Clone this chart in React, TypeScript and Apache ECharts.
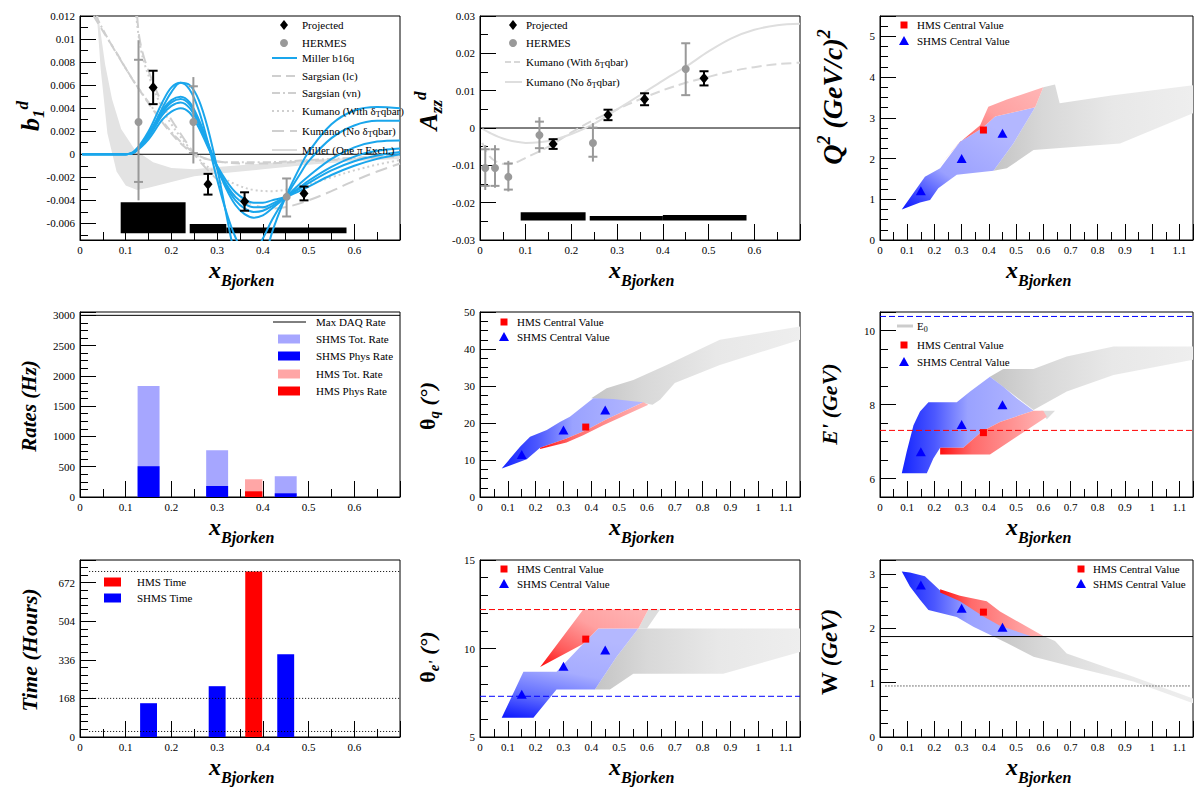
import React, { useEffect, useRef } from 'react';
import * as echarts from 'echarts';

type Pt = [number, number];
const SERIF = 'Liberation Serif, Times New Roman, Times, serif';

// ================= Panel 1 : b1^d =================
const b1ProjX = [0.16, 0.28, 0.36, 0.49];
const b1ProjY = [0.0058, -0.0026, -0.0041, -0.0034];
const b1ProjErr = [0.00145, 0.0009, 0.0008, 0.0006];
const b1HermesX = [0.128, 0.248, 0.452];
const b1HermesY = [0.0028, 0.0028, -0.0037];
const b1HermesTotLo = [-0.004, -0.0008, -0.0054];
const b1HermesTotHi = [0.0099, 0.0067, -0.0021];
const b1HermesStatLo = [-0.0024, 0.0001, -0.0054];
const b1HermesStatHi = [0.0082, 0.0059, -0.0021];
const b1SysLo = [0.089, 0.24, 0.32];
const b1SysHi = [0.231, 0.32, 0.583];
const b1SysTop = [-0.00416, -0.00605, -0.00635];
const b1SysBase = -0.00685;

const millerX = [0.005, 0.1, 0.12, 0.15, 0.18, 0.2, 0.22, 0.24, 0.26, 0.28, 0.3, 0.32, 0.34, 0.36, 0.38, 0.4, 0.42, 0.45, 0.48, 0.5, 0.55, 0.6, 0.65, 0.7];
const miller1 = [0, 0, 0.0002, 0.0016, 0.004, 0.0054, 0.0062, 0.006, 0.0047, 0.0022, -0.0012, -0.0052, -0.009, -0.0115, -0.012, -0.0098, -0.0068, -0.0037, -0.0012, 0.0002, 0.0026, 0.0038, 0.0041, 0.004];
const miller2 = [0, 0, 0.0003, 0.002, 0.0045, 0.0058, 0.0062, 0.0056, 0.0038, 0.001, -0.0022, -0.005, -0.0072, -0.0085, -0.0085, -0.0073, -0.0057, -0.0037, -0.0018, -0.0006, 0.0014, 0.0025, 0.0029, 0.0029];
const miller3 = [0, 0, 0.0003, 0.0018, 0.0038, 0.0047, 0.005, 0.0045, 0.003, 0.001, -0.0011, -0.003, -0.0044, -0.0052, -0.0055, -0.0053, -0.0047, -0.0037, -0.0026, -0.0019, -0.0004, 0.0006, 0.0011, 0.0012];
const miller4 = [0, 0, 0.0002, 0.0016, 0.0036, 0.0045, 0.0048, 0.0043, 0.0028, 0.0008, -0.0012, -0.0028, -0.004, -0.0047, -0.005, -0.0049, -0.0045, -0.0037, -0.0029, -0.0023, -0.0011, -0.0002, 0.0003, 0.0005];
const miller5 = [0, 0, 0.0002, 0.0015, 0.0034, 0.0042, 0.0045, 0.004, 0.0026, 0.0007, -0.0011, -0.0026, -0.0037, -0.0043, -0.0046, -0.0046, -0.0043, -0.0037, -0.003, -0.0025, -0.0014, -0.0006, -0.0001, 0.0002];
const miller6 = [0, 0, 0.0002, 0.0013, 0.003, 0.0037, 0.004, 0.0036, 0.0023, 0.0006, -0.001, -0.0023, -0.0033, -0.0039, -0.0042, -0.0042, -0.004, -0.0037, -0.0032, -0.0028, -0.0018, -0.001, -0.0004, 0];

const sargLcX = [0.03, 0.05, 0.08, 0.11, 0.14, 0.17, 0.2, 0.23, 0.26, 0.3, 0.35, 0.4, 0.5, 0.6, 0.7];
const sargLcY = [0.012, 0.0107, 0.0088, 0.0068, 0.005, 0.0033, 0.0018, 0.0006, -0.0002, -0.0006, -0.0008, -0.0008, -0.0006, -0.0004, -0.0002];
const sargVnX = [0.035, 0.06, 0.09, 0.12, 0.15, 0.18, 0.21, 0.24, 0.27, 0.32, 0.4, 0.5, 0.6, 0.7];
const sargVnY = [0.012, 0.0101, 0.0081, 0.0062, 0.0045, 0.0029, 0.0015, 0.0004, -0.0003, -0.0007, -0.0007, -0.0005, -0.0003, -0.0001];
const kumWithX = [0.123, 0.13, 0.14, 0.16, 0.18, 0.2, 0.23, 0.26, 0.3, 0.34, 0.38, 0.42, 0.46, 0.5, 0.55, 0.6, 0.65, 0.7];
const kumWithY = [0.012, 0.0098, 0.008, 0.0058, 0.004, 0.0026, 0.001, -0.0004, -0.0017, -0.0026, -0.0031, -0.0032, -0.003, -0.0026, -0.002, -0.0014, -0.0009, -0.0005];
const kumNoX = [0.125, 0.13, 0.14, 0.16, 0.18, 0.2, 0.23, 0.26, 0.3, 0.34, 0.38, 0.42, 0.46, 0.5, 0.55, 0.6, 0.65, 0.7];
const kumNoY = [0.012, 0.0101, 0.0084, 0.0062, 0.0044, 0.003, 0.0012, -0.0005, -0.0022, -0.0036, -0.0044, -0.0047, -0.0045, -0.004, -0.0032, -0.0023, -0.0015, -0.0008];
const opeUpper: Pt[] = [[0.04, 0.012], [0.055, 0.0078], [0.07, 0.0048], [0.09, 0.0022], [0.12, 0.0004], [0.16, -0.0007], [0.2, -0.0012], [0.25, -0.0013], [0.3, -0.0011], [0.4, -0.0008], [0.5, -0.0005], [0.6, -0.0003], [0.7, -0.0002]];
const opeLower: Pt[] = [[0.7, -0.0004], [0.6, -0.0006], [0.5, -0.0009], [0.4, -0.0013], [0.3, -0.0017], [0.25, -0.0019], [0.2, -0.0024], [0.15, -0.0029], [0.125, -0.0031], [0.1, -0.0027], [0.08, -0.0015], [0.06, 0.0018], [0.045, 0.0075], [0.037, 0.012]];

// ================= Panel 2 : Azz^d =================
const azzProjY = [-0.0043, 0.0035, 0.0077, 0.0133];
const azzProjErr = [0.0013, 0.0014, 0.0016, 0.0019];
const azzHermesX = [0.0115, 0.0328, 0.062, 0.13, 0.247, 0.45];
const azzHermesY = [-0.0107, -0.0107, -0.0131, -0.0019, -0.004, 0.0158];
const azzHermesTotLo = [-0.0166, -0.016, -0.017, -0.0066, -0.009, 0.0088];
const azzHermesTotHi = [-0.0046, -0.0046, -0.0088, 0.0029, 0.0013, 0.0227];
const azzHermesStatLo = [-0.0155, -0.0155, -0.0165, -0.0054, -0.0077, 0.0088];
const azzHermesStatHi = [-0.0057, -0.0057, -0.0095, 0.0017, 0.0001, 0.0227];
const azzSysLo = [0.089, 0.24, 0.4];
const azzSysHi = [0.231, 0.4, 0.583];
const azzSysTop = [-0.0226, -0.0236, -0.0233];
const azzSysBase = -0.0248;
const azzKumWithX = [0.005, 0.02, 0.04, 0.06, 0.08, 0.1, 0.15, 0.2, 0.25, 0.3, 0.35, 0.4, 0.45, 0.5, 0.55, 0.6, 0.65, 0.7];
const azzKumWithY = [-0.004, -0.0075, -0.0093, -0.0097, -0.0092, -0.008, -0.005, -0.0012, 0.0022, 0.005, 0.0077, 0.0101, 0.0121, 0.0137, 0.0152, 0.0163, 0.0171, 0.0175];
const azzKumNoX = [0.005, 0.02, 0.05, 0.08, 0.1, 0.13, 0.16, 0.2, 0.25, 0.3, 0.35, 0.4, 0.45, 0.5, 0.55, 0.6, 0.65, 0.7];
const azzKumNoY = [-0.0002, -0.0012, -0.0028, -0.0037, -0.004, -0.0038, -0.0032, -0.0016, 0.0012, 0.005, 0.0088, 0.0127, 0.0164, 0.0205, 0.024, 0.0263, 0.0275, 0.0279];

// ================= Central values (kinematics) =================
const shmsX = [0.15, 0.3, 0.45];
const hmsX = [0.38];
const q2Shms = [1.21, 2.0, 2.62];
const q2Hms = [2.7];
const thqShms = [11.5, 18.1, 23.5];
const thqHms = [18.9];
const epShms = [6.72, 7.46, 7.99];
const epHms = [7.24];
const theShms = [7.42, 9.0, 9.91];
const theHms = [10.53];
const wShms = [2.8, 2.37, 2.02];
const wHms = [2.3];

// ================= Kinematic coverage regions =================
const q2Gray: Pt[] = [[0.417, 1.7], [0.466, 1.76], [0.564, 2.21], [0.882, 2.37], [1.15, 3.11], [1.15, 3.8], [0.85, 3.55], [0.66, 3.36], [0.643, 3.82], [0.6, 3.75], [0.57, 3.26], [0.49, 2.37]];
const q2Blue: Pt[] = [[0.08, 0.75], [0.147, 0.92], [0.184, 0.98], [0.214, 1.27], [0.282, 1.6], [0.417, 1.7], [0.49, 2.37], [0.57, 3.26], [0.423, 3.03], [0.374, 2.74], [0.294, 2.41], [0.221, 1.76], [0.165, 1.55]];
const q2Red: Pt[] = [[0.214, 1.78], [0.288, 2.37], [0.368, 2.82], [0.398, 3.27], [0.466, 3.45], [0.6, 3.75], [0.57, 3.26], [0.423, 3.03], [0.374, 2.74], [0.294, 2.41]];

const thqGray: Pt[] = [[0.4, 26.7], [0.455, 29.4], [0.551, 31.6], [0.671, 35.7], [0.862, 42.5], [1.15, 46.1], [1.15, 42.5], [0.862, 35.7], [0.7, 30.8], [0.647, 26.3], [0.62, 24.9], [0.587, 25.4]];
const thqBlue: Pt[] = [[0.078, 7.7], [0.168, 10.2], [0.216, 13.3], [0.311, 15.8], [0.383, 18.1], [0.455, 21.0], [0.587, 25.6], [0.551, 25.9], [0.479, 26.5], [0.407, 26.7], [0.323, 21.7], [0.287, 20.3], [0.24, 18.1], [0.18, 16.3], [0.144, 13.6]];
const thqRed: Pt[] = [[0.216, 13.3], [0.311, 15.8], [0.383, 18.1], [0.455, 21.0], [0.587, 25.6], [0.605, 24.9], [0.443, 19.4], [0.371, 16.7], [0.311, 14.7], [0.216, 13.0]];

const epGray: Pt[] = [[0.404, 8.75], [0.453, 8.96], [0.564, 8.96], [0.686, 9.3], [0.858, 9.57], [1.15, 9.57], [1.15, 9.21], [0.858, 8.8], [0.686, 8.35], [0.564, 7.85]];
const epGrayTab: Pt[] = [[0.59, 7.83], [0.643, 7.83], [0.613, 7.6]];
const epBlue: Pt[] = [[0.08, 6.14], [0.172, 6.14], [0.196, 6.54], [0.221, 6.83], [0.306, 6.83], [0.374, 7.27], [0.441, 7.53], [0.564, 7.83], [0.502, 8.17], [0.453, 8.48], [0.404, 8.75], [0.331, 8.35], [0.282, 8.06], [0.178, 8.06], [0.147, 7.81], [0.123, 7.44], [0.098, 6.72]];
const epRed: Pt[] = [[0.221, 6.83], [0.306, 6.83], [0.374, 7.27], [0.441, 7.53], [0.564, 7.83], [0.6, 7.83], [0.613, 7.67], [0.502, 7.13], [0.404, 6.65], [0.221, 6.65]];

const theGray: Pt[] = [[0.413, 7.68], [0.467, 7.68], [0.551, 8.58], [0.874, 8.58], [1.15, 9.8], [1.15, 11.13], [0.569, 11.13], [0.491, 9.53]];
const theGrayTab: Pt[] = [[0.605, 12.2], [0.647, 12.2], [0.6, 11.13], [0.569, 11.13]];
const theBlue: Pt[] = [[0.078, 6.09], [0.192, 6.09], [0.275, 7.68], [0.413, 7.68], [0.491, 9.53], [0.569, 11.13], [0.425, 11.13], [0.37, 10.25], [0.275, 8.68], [0.156, 8.68]];
const theRed: Pt[] = [[0.216, 8.96], [0.371, 12.2], [0.605, 12.2], [0.569, 11.13], [0.425, 11.13], [0.37, 10.25]];

const wGray: Pt[] = [[0.417, 1.85], [0.466, 1.73], [0.564, 1.48], [0.711, 1.29], [0.931, 1.02], [1.15, 0.62], [1.15, 0.71], [0.931, 1.11], [0.686, 1.54], [0.643, 1.77], [0.6, 1.86]];
const wBlue: Pt[] = [[0.08, 3.05], [0.11, 3.03], [0.165, 2.96], [0.221, 2.7], [0.294, 2.58], [0.392, 2.45], [0.441, 2.22], [0.564, 1.84], [0.417, 1.85], [0.343, 2.03], [0.282, 2.21], [0.178, 2.34], [0.147, 2.53], [0.11, 2.77]];
const wRed: Pt[] = [[0.221, 2.72], [0.294, 2.6], [0.392, 2.5], [0.441, 2.31], [0.6, 1.86], [0.564, 1.84], [0.441, 2.05], [0.38, 2.22], [0.294, 2.5], [0.221, 2.66]];

// ================= Rates & time =================
const shmsRateX = [0.15, 0.3, 0.45];
const shmsTotRate = [1835, 774, 343];
const shmsPhysRate = [508, 182, 61];
const hmsRateX = [0.38];
const hmsTotRate = [293];
const hmsPhysRate = [94];
const maxDaqRate = 3000;

const shmsTimeX = [0.15, 0.3, 0.45];
const shmsTime = [147, 221, 360];
const hmsTimeX = [0.38];
const hmsTime = [720];
const timeRefLines = [24, 168, 720];

// reference levels
const epHmsMax = 7.3;
const epBeam = 10.38;
const theHmsLine = 12.2;
const theShmsLine = 7.3;
const wCut = 1.85;
const wProton = 0.94;

// ================= helpers =================
const toPts = (xs: number[], ys: number[]) => xs.map((x, i) => [x, ys[i]]);
const lg = (x: number, y: number, x2: number, y2: number, stops: [number, string][]) =>
  new echarts.graphic.LinearGradient(x, y, x2, y2, stops.map(([o, c]) => ({ offset: o, color: c })));
const numFmt = (v: number) => String(parseFloat(Number(v).toPrecision(6)));

const xAxisCfg = (gi: number, max: number) => ({
  type: 'value', gridIndex: gi, min: 0, max, interval: 0.1,
  axisLine: { show: true, onZero: false, lineStyle: { color: '#000', width: 1 } },
  axisTick: { show: true, inside: true, length: 16, lineStyle: { color: '#000', width: 1 } },
  minorTick: { show: true, splitNumber: 2, length: 8, lineStyle: { color: '#000', width: 1 } },
  axisLabel: { show: true, color: '#000', fontFamily: SERIF, fontSize: 11, margin: 4, showMaxLabel: false, formatter: numFmt },
  splitLine: { show: false },
});
const yAxisCfg = (gi: number, min: number, max: number, o: any) => ({
  type: 'value', gridIndex: gi, min, max,
  ...(o.interval ? { interval: o.interval } : { splitNumber: o.splitNumber }),
  axisLine: { show: true, onZero: false, lineStyle: { color: '#000', width: 1 } },
  axisTick: { show: true, inside: true, length: 16, lineStyle: { color: '#000', width: 1 } },
  minorTick: { show: true, splitNumber: o.minor, length: 8, lineStyle: { color: '#000', width: 1 } },
  axisLabel: { show: true, color: '#000', fontFamily: SERIF, fontSize: 11, margin: 5, showMaxLabel: !o.hideMax, showMinLabel: !o.hideMin, formatter: numFmt },
  splitLine: { show: false },
});

const polySeries = (gi: number, pts: Pt[], fill: any) => ({
  type: 'custom', xAxisIndex: gi, yAxisIndex: gi, silent: true, clip: true,
  data: [pts[0]],
  renderItem: (_p: any, api: any) => ({
    type: 'polygon',
    shape: { points: pts.map((p) => api.coord(p)) },
    style: { fill, stroke: null },
  }),
});
const curve = (gi: number, xs: number[], ys: number[], color: string, width: number, type: any) => ({
  type: 'line', xAxisIndex: gi, yAxisIndex: gi, silent: true, clip: true,
  data: toPts(xs, ys), smooth: 0.35, showSymbol: false, symbol: 'none',
  lineStyle: { color, width, type },
});
const hline = (gi: number, y: number, x0: number, x1: number, color: string, type: any, width = 1) => ({
  type: 'line', xAxisIndex: gi, yAxisIndex: gi, silent: true,
  data: [[x0, y], [x1, y]], showSymbol: false, symbol: 'none',
  lineStyle: { color, width, type },
});
const scatter = (gi: number, xs: number[], ys: number[], symbol: string, size: any, color: string) => ({
  type: 'scatter', xAxisIndex: gi, yAxisIndex: gi, silent: true,
  data: toPts(xs, ys), symbol, symbolSize: size, itemStyle: { color, opacity: 1 }, z: 5,
});
const barSeries = (gi: number, xs: number[], ys: number[], hw: number, color: string) => ({
  type: 'custom', xAxisIndex: gi, yAxisIndex: gi, silent: true, clip: true,
  data: toPts(xs, ys), encode: { x: 0, y: 1 },
  renderItem: (_p: any, api: any) => {
    const x = api.value(0);
    const y = api.value(1);
    const a = api.coord([x - hw, y]);
    const b = api.coord([x + hw, 0]);
    return { type: 'rect', shape: { x: a[0], y: a[1], width: b[0] - a[0], height: b[1] - a[1] }, style: { fill: color } };
  },
});
const blockSeries = (gi: number, los: number[], his: number[], tops: number[], base: number) => ({
  type: 'custom', xAxisIndex: gi, yAxisIndex: gi, silent: true, clip: true,
  data: los.map((l, i) => [l, tops[i], his[i]]), encode: { x: 0, y: 1 },
  renderItem: (_p: any, api: any) => {
    const a = api.coord([api.value(0), api.value(1)]);
    const b = api.coord([api.value(2), base]);
    return { type: 'rect', shape: { x: a[0], y: a[1], width: b[0] - a[0], height: b[1] - a[1] }, style: { fill: '#000' } };
  },
});
const errSeries = (gi: number, xs: number[], lo: number[], hi: number[], tlo: number[], thi: number[], color: string, width: number, capHalf: number) => ({
  type: 'custom', xAxisIndex: gi, yAxisIndex: gi, silent: true, clip: true, z: 4,
  data: xs.map((x, i) => [x, lo[i], hi[i], tlo[i], thi[i]]), encode: { x: 0, y: [1, 2] },
  renderItem: (_p: any, api: any) => {
    const x = api.value(0);
    const a = api.coord([x, api.value(1)]);
    const b = api.coord([x, api.value(2)]);
    const c = api.coord([x, api.value(3)]);
    const d = api.coord([x, api.value(4)]);
    const st = { stroke: color, lineWidth: width };
    return {
      type: 'group', children: [
        { type: 'line', shape: { x1: a[0], y1: a[1], x2: b[0], y2: b[1] }, style: st },
        { type: 'line', shape: { x1: c[0] - capHalf, y1: c[1], x2: c[0] + capHalf, y2: c[1] }, style: st },
        { type: 'line', shape: { x1: d[0] - capHalf, y1: d[1], x2: d[0] + capHalf, y2: d[1] }, style: st },
      ],
    };
  },
});

// gradients
const gBlueDiag = () => lg(0, 1, 0.7, 0.2, [[0, '#0814ff'], [0.2, '#4450ff'], [0.45, '#9aa0ff'], [1, '#b3b7ff']]);
const gBlueH = () => lg(0, 0, 1, 0, [[0, '#1424ff'], [0.25, '#4c58ff'], [0.5, '#9aa2ff'], [1, '#b4b8ff']]);
const gBlueV = () => lg(0, 1, 0.3, 0, [[0, '#0a16ff'], [0.3, '#6470ff'], [0.6, '#a6acff'], [1, '#b4b8ff']]);
const gRedDiag = () => lg(0, 1, 1, 0, [[0, '#ff0a0a'], [0.25, '#ff5a5a'], [0.6, '#ffa0a0'], [1, '#ffb6b6']]);
const gRedH = () => lg(0, 0, 1, 0, [[0, '#ff1010'], [0.3, '#ff6a6a'], [1, '#ffb6b6']]);
const gGrayH = () => lg(0, 0, 1, 0, [[0, '#c4c4c4'], [0.25, '#d8d8d8'], [0.6, '#e8e8e8'], [1, '#eeeeee']]);

// ================= text helpers =================
const titleRich = (size: number, sub: number, shift: number) => {
  const base = { fontFamily: SERIF, fontWeight: 'bold', color: '#000', lineHeight: Math.round(size * 1.1) };
  return {
    m: { ...base, fontSize: size, fontStyle: 'italic' },
    r: { ...base, fontSize: size, fontStyle: 'normal' },
    sb: { ...base, fontSize: sub, fontStyle: 'italic', padding: [shift * 2, 0, 0, 0] },
    sp: { ...base, fontSize: sub, fontStyle: 'italic', padding: [0, 0, shift * 2, 0] },
  };
};
const legRich = {
  n: { fontSize: 11, fontFamily: SERIF, color: '#000', lineHeight: 13 },
  s: { fontSize: 8, fontFamily: SERIF, color: '#000', lineHeight: 13, padding: [7, 0, 0, 0] },
};
const txt = (x: number, y: number, text: string, rich?: any) => ({
  type: 'text', x, y, z: 100, silent: true,
  style: {
    text, fill: '#000', fontSize: 11, fontFamily: SERIF, rich,
    align: 'left', verticalAlign: 'middle', textAlign: 'left', textVerticalAlign: 'middle',
  },
});
const yTitle = (x: number, y: number, text: string, size: number, sub: number, shift: number) => ({
  type: 'text', x, y, rotation: Math.PI / 2, z: 100, silent: true,
  style: { text, rich: titleRich(size, sub, shift), align: 'center', verticalAlign: 'middle', textAlign: 'center', textVerticalAlign: 'middle' },
});
const boldItalic = (x: number, y: number, text: string, size: number, lineHeight: number) => ({
  type: 'text', x, y, z: 100, silent: true,
  style: {
    text, fill: '#000', fontSize: size, fontFamily: SERIF, fontWeight: 'bold', fontStyle: 'italic', lineHeight,
    align: 'left', verticalAlign: 'middle', textAlign: 'left', textVerticalAlign: 'middle',
  },
});
const xTitle = (cx: number, y: number) => [
  boldItalic(cx - 32, y, 'x', 24, 14),
  boldItalic(cx - 20, y + 10, 'Bjorken', 16, 12),
];
const gLine = (x1: number, x2: number, y: number, stroke: string, lineWidth: number, lineDash?: number[]) => ({
  type: 'line', z: 100, silent: true, shape: { x1, y1: y, x2, y2: y }, style: { stroke, lineWidth, lineDash },
});
const gDiamond = (cx: number, cy: number) => ({
  type: 'polygon', z: 100, silent: true, shape: { points: [[cx, cy - 5], [cx + 4, cy], [cx, cy + 5], [cx - 4, cy]] }, style: { fill: '#000' },
});
const gCircle = (cx: number, cy: number) => ({ type: 'circle', z: 100, silent: true, shape: { cx, cy, r: 4 }, style: { fill: '#999' } });
const gSquare = (cx: number, cy: number) => ({ type: 'rect', z: 100, silent: true, shape: { x: cx - 3.5, y: cy - 3.5, width: 7, height: 7 }, style: { fill: '#ff0000' } });
const gTri = (cx: number, cy: number) => ({
  type: 'polygon', z: 100, silent: true, shape: { points: [[cx, cy - 5], [cx + 5, cy + 4], [cx - 5, cy + 4]] }, style: { fill: '#0000ff' },
});
const gBox = (x: number, cy: number, w: number, h: number, fill: string) => ({
  type: 'rect', z: 100, silent: true, shape: { x, y: cy - h / 2, width: w, height: h }, style: { fill },
});

const BLUE = '#1aa6ec';
const LGRAY = '#cfcfcf';

function buildOption() {
  const grids = [
    { left: 80, top: 16, width: 320, height: 224 },
    { left: 480, top: 16, width: 320, height: 224 },
    { left: 880, top: 16, width: 313, height: 224 },
    { left: 80, top: 312, width: 320, height: 185 },
    { left: 480, top: 312, width: 320, height: 185 },
    { left: 880, top: 312, width: 313, height: 185 },
    { left: 80, top: 560, width: 320, height: 177 },
    { left: 480, top: 560, width: 320, height: 177 },
    { left: 880, top: 560, width: 313, height: 177 },
  ].map((g) => ({ ...g, show: true, borderColor: '#000', borderWidth: 1, backgroundColor: 'transparent', containLabel: false }));

  const xMax = [0.7, 0.7, 1.15, 0.7, 1.15, 1.15, 0.7, 1.15, 1.15];
  const xAxis = xMax.map((m, i) => xAxisCfg(i, m));
  const yAxis = [
    yAxisCfg(0, -0.00744, 0.012, { splitNumber: 10, minor: 2, hideMin: true }),
    yAxisCfg(1, -0.03, 0.03, { interval: 0.01, minor: 2 }),
    yAxisCfg(2, 0, 5.5, { interval: 1, minor: 4, hideMax: true }),
    yAxisCfg(3, 0, 3055, { interval: 500, minor: 4, hideMax: true }),
    yAxisCfg(4, 0, 50, { interval: 10, minor: 4 }),
    yAxisCfg(5, 5.5, 10.5, { splitNumber: 3, minor: 4, hideMin: true, hideMax: true }),
    yAxisCfg(6, 0, 770, { interval: 168, minor: 5, hideMax: true }),
    yAxisCfg(7, 5, 15, { interval: 5, minor: 5 }),
    yAxisCfg(8, 0, 3.26, { interval: 1, minor: 4, hideMax: true }),
  ];

  const series: any[] = [
    // ---- panel 1
    polySeries(0, [...opeUpper, ...opeLower], '#e3e3e3'),
    hline(0, 0, 0, 0.7, '#000', 'solid'),
    curve(0, sargLcX, sargLcY, LGRAY, 2, [9, 5]),
    curve(0, sargVnX, sargVnY, LGRAY, 2, [8, 3, 2, 3]),
    curve(0, kumWithX, kumWithY, LGRAY, 2, [2, 3]),
    curve(0, kumNoX, kumNoY, LGRAY, 2, [12, 6]),
    curve(0, millerX, miller1, BLUE, 2, 'solid'),
    curve(0, millerX, miller2, BLUE, 2, 'solid'),
    curve(0, millerX, miller3, BLUE, 2, 'solid'),
    curve(0, millerX, miller4, BLUE, 2, 'solid'),
    curve(0, millerX, miller5, BLUE, 2, 'solid'),
    curve(0, millerX, miller6, BLUE, 2, 'solid'),
    blockSeries(0, b1SysLo, b1SysHi, b1SysTop, b1SysBase),
    errSeries(0, b1HermesX, b1HermesTotLo, b1HermesTotHi, b1HermesStatLo, b1HermesStatHi, '#999', 2, 4.5),
    scatter(0, b1HermesX, b1HermesY, 'circle', 8, '#999'),
    errSeries(0, b1ProjX, b1ProjY.map((y, i) => y - b1ProjErr[i]), b1ProjY.map((y, i) => y + b1ProjErr[i]),
      b1ProjY.map((y, i) => y - b1ProjErr[i]), b1ProjY.map((y, i) => y + b1ProjErr[i]), '#000', 2, 4.5),
    scatter(0, b1ProjX, b1ProjY, 'diamond', [9, 11], '#000'),
    // ---- panel 2
    hline(1, 0, 0, 0.7, '#000', 'solid'),
    curve(1, azzKumWithX, azzKumWithY, '#d8d8d8', 2, [10, 5]),
    curve(1, azzKumNoX, azzKumNoY, '#dedede', 2, 'solid'),
    blockSeries(1, azzSysLo, azzSysHi, azzSysTop, azzSysBase),
    errSeries(1, azzHermesX, azzHermesTotLo, azzHermesTotHi, azzHermesStatLo, azzHermesStatHi, '#999', 2, 4.5),
    scatter(1, azzHermesX, azzHermesY, 'circle', 8, '#999'),
    errSeries(1, b1ProjX, azzProjY.map((y, i) => y - azzProjErr[i]), azzProjY.map((y, i) => y + azzProjErr[i]),
      azzProjY.map((y, i) => y - azzProjErr[i]), azzProjY.map((y, i) => y + azzProjErr[i]), '#000', 2, 4.5),
    scatter(1, b1ProjX, azzProjY, 'diamond', [9, 11], '#000'),
    // ---- panel 3
    polySeries(2, q2Gray, gGrayH()),
    polySeries(2, q2Blue, gBlueDiag()),
    polySeries(2, q2Red, gRedDiag()),
    scatter(2, hmsX, q2Hms, 'rect', 7, '#ff0000'),
    scatter(2, shmsX, q2Shms, 'triangle', [10, 9], '#0000ff'),
    // ---- panel 4
    barSeries(3, shmsRateX, shmsTotRate, 0.024, '#a6a6ff'),
    barSeries(3, shmsRateX, shmsPhysRate, 0.024, '#0000ff'),
    barSeries(3, hmsRateX, hmsTotRate, 0.019, '#ffa6a6'),
    barSeries(3, hmsRateX, hmsPhysRate, 0.019, '#ff0000'),
    hline(3, maxDaqRate, 0, 0.7, '#000', 'solid'),
    // ---- panel 5
    polySeries(4, thqGray, gGrayH()),
    polySeries(4, thqBlue, gBlueH()),
    polySeries(4, thqRed, gRedH()),
    scatter(4, hmsX, thqHms, 'rect', 7, '#ff0000'),
    scatter(4, shmsX, thqShms, 'triangle', [10, 9], '#0000ff'),
    // ---- panel 6
    polySeries(5, epGray, gGrayH()),
    polySeries(5, epGrayTab, '#dddddd'),
    polySeries(5, epBlue, gBlueH()),
    polySeries(5, epRed, gRedH()),
    hline(5, epBeam, 0, 1.15, '#0000ff', [6, 3]),
    hline(5, epHmsMax, 0, 1.15, '#ff0000', [6, 3]),
    scatter(5, hmsX, epHms, 'rect', 7, '#ff0000'),
    scatter(5, shmsX, epShms, 'triangle', [10, 9], '#0000ff'),
    // ---- panel 7
    barSeries(6, shmsTimeX, shmsTime, 0.0185, '#0000ff'),
    barSeries(6, hmsTimeX, hmsTime, 0.0185, '#ff0000'),
    ...timeRefLines.map((v) => hline(6, v, 0.02, 0.7, '#000', [1, 2])),
    // ---- panel 8
    polySeries(7, theGray, gGrayH()),
    polySeries(7, theGrayTab, '#dddddd'),
    polySeries(7, theBlue, gBlueV()),
    polySeries(7, theRed, gRedDiag()),
    hline(7, theHmsLine, 0, 1.15, '#ff0000', [6, 3]),
    hline(7, theShmsLine, 0, 1.15, '#0000ff', [6, 3]),
    scatter(7, hmsX, theHms, 'rect', 7, '#ff0000'),
    scatter(7, shmsX, theShms, 'triangle', [10, 9], '#0000ff'),
    // ---- panel 9
    polySeries(8, wGray, gGrayH()),
    polySeries(8, wBlue, gBlueH()),
    polySeries(8, wRed, gRedH()),
    hline(8, wCut, 0, 1.15, '#000', 'solid'),
    hline(8, wProton, 0.02, 1.14, '#000', [1, 2]),
    scatter(8, hmsX, wHms, 'rect', 7, '#ff0000'),
    scatter(8, shmsX, wShms, 'triangle', [10, 9], '#0000ff'),
  ];

  const kumWithTxt = '{n|Kumano (With δ}{s|T}{n|qbar)}';
  const kumNoTxt = '{n|Kumano (No δ}{s|T}{n|qbar)}';
  const graphics: any[] = [
    // panel 1 legend
    gDiamond(284, 25), txt(302, 25, 'Projected'),
    gCircle(284, 43), txt(302, 43, 'HERMES'),
    gLine(272, 297, 58, BLUE, 2), txt(302, 58, 'Miller b16q'),
    gLine(272, 297, 76, LGRAY, 2, [9, 5]), txt(302, 76, 'Sargsian (lc)'),
    gLine(272, 297, 93, LGRAY, 2, [8, 3, 2, 3]), txt(302, 93, 'Sargsian (vn)'),
    gLine(272, 297, 111, LGRAY, 2, [2, 3]), txt(302, 111, kumWithTxt, legRich),
    gLine(272, 297, 131, LGRAY, 2, [12, 6]), txt(302, 131, kumNoTxt, legRich),
    gLine(272, 297, 150, '#dddddd', 2), txt(302, 150, 'Miller (One π Exch.)'),
    // panel 2 legend
    gDiamond(513, 25), txt(526, 25, 'Projected'),
    gCircle(513, 43), txt(526, 43, 'HERMES'),
    gLine(505, 522, 62, '#d8d8d8', 2, [6, 3]), txt(526, 62, kumWithTxt, legRich),
    gLine(505, 522, 82, '#dedede', 2), txt(526, 82, kumNoTxt, legRich),
    // panel 3 legend
    gSquare(904, 25), txt(917, 25, 'HMS Central Value'),
    gTri(904, 41), txt(917, 41, 'SHMS Central Value'),
    // panel 4 legend
    gLine(273, 306, 322, '#000', 1), txt(316, 322, 'Max DAQ Rate'),
    gBox(278, 339, 22, 9, '#a6a6ff'), txt(316, 339, 'SHMS Tot. Rate'),
    gBox(278, 356, 22, 9, '#0000ff'), txt(316, 356, 'SHMS Phys Rate'),
    gBox(278, 374, 22, 9, '#ffa6a6'), txt(316, 374, 'HMS Tot. Rate'),
    gBox(278, 391, 22, 9, '#ff0000'), txt(316, 391, 'HMS Phys Rate'),
    // panel 5 legend
    gSquare(504, 322), txt(517, 322, 'HMS Central Value'),
    gTri(504, 337), txt(517, 337, 'SHMS Central Value'),
    // panel 6 legend
    gLine(897, 913, 326, '#cccccc', 3), txt(917, 326, '{n|E}{s|0}', legRich),
    gSquare(904, 345), txt(917, 345, 'HMS Central Value'),
    gTri(904, 362), txt(917, 362, 'SHMS Central Value'),
    // panel 7 legend
    gBox(104, 582, 17, 9, '#ff0000'), txt(137, 582, 'HMS Time'),
    gBox(104, 598, 17, 9, '#0000ff'), txt(137, 598, 'SHMS Time'),
    // panel 8 legend
    gSquare(504, 569), txt(517, 569, 'HMS Central Value'),
    gTri(504, 584), txt(517, 584, 'SHMS Central Value'),
    // panel 9 legend
    gSquare(1081, 569), txt(1093, 569, 'HMS Central Value'),
    gTri(1081, 584), txt(1093, 584, 'SHMS Central Value'),
    // x titles
    ...[240, 497, 737].flatMap((b) => [241, 641, 1038].flatMap((c) => xTitle(c, b + 30))),
    // y titles
    yTitle(30, 116, '{m|b}{sb|1}{sp|d}', 26, 17, 8),
    yTitle(428, 111, '{m|A}{sb|zz}{sp|d}', 26, 17, 8),
    yTitle(832, 97, '{m|Q}{sp|2}{m| (GeV/c)}{sp|2}', 28, 18, 8),
    yTitle(29, 406, '{m|Rates (Hz)}', 21, 14, 7),
    yTitle(427, 406, '{r|θ}{sb|q}{m| (°)}', 22, 15, 7),
    yTitle(829, 404, "{m|E' (GeV)}", 22, 15, 7),
    yTitle(29, 650, '{m|Time (Hours)}', 22, 15, 7),
    yTitle(427, 657, "{r|θ}{sb|e'}{m| (°)}", 22, 15, 7),
    yTitle(829, 652, '{r|W}{m| (GeV)}', 23, 15, 7),
  ];

  return {
    animation: false,
    backgroundColor: '#ffffff',
    grid: grids,
    xAxis,
    yAxis,
    series,
    graphic: graphics,
  };
}

export default function App() {
  const ref = useRef<HTMLDivElement>(null);
  useEffect(() => {
    document.body.style.margin = '0';
    const chart = echarts.init(ref.current as HTMLDivElement, null, { renderer: 'svg', width: 1200, height: 800 });
    chart.setOption(buildOption() as any);
    return () => chart.dispose();
  }, []);
  return <div ref={ref} style={{ width: 1200, height: 800, position: 'absolute', left: 0, top: 0, background: '#fff' }} />;
}
